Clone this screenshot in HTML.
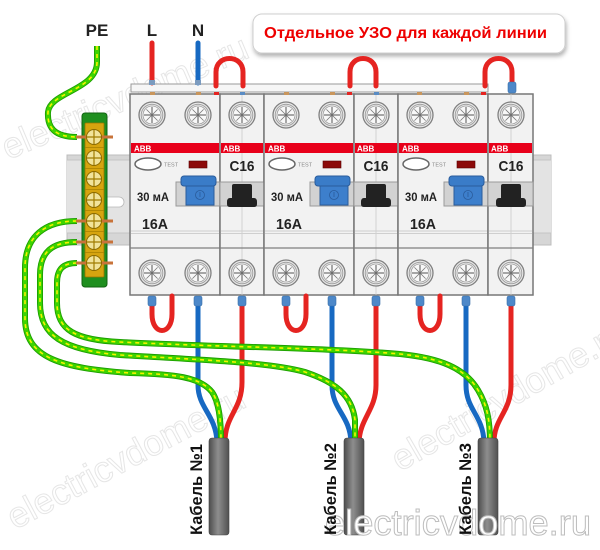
<!DOCTYPE html>
<html><head><meta charset="utf-8">
<style>html,body{margin:0;padding:0;background:#fff}svg{display:block}</style>
</head><body>
<svg width="600" height="550" viewBox="0 0 600 550" xmlns="http://www.w3.org/2000/svg" font-family="'Liberation Sans','DejaVu Sans',sans-serif">
<defs>
<g id="sc">
 <circle r="13" fill="#ececec" stroke="#808080" stroke-width="1.3"/>
 <circle r="10.8" fill="none" stroke="#a0a0a0" stroke-width="1"/>
 <circle r="9" fill="#f8f8f8" stroke="#9a9a9a" stroke-width="0.8"/>
 <path d="M-8,0H8M0,-8V8" stroke="#555" stroke-width="1"/>
 <path d="M-5.6,-5.6L5.6,5.6M-5.6,5.6L5.6,-5.6" stroke="#777" stroke-width="0.8"/>
</g>
<g id="bs">
 <circle r="7.5" fill="#f1e39a" stroke="#8a6a00" stroke-width="1"/>
 <path d="M-7,0H7M0,-7V7" stroke="#a07c00" stroke-width="1.2"/>
</g>
<linearGradient id="cab" x1="0" x2="1" y1="0" y2="0">
 <stop offset="0" stop-color="#4d4d4d"/><stop offset="0.45" stop-color="#8e8e8e"/><stop offset="1" stop-color="#505050"/>
</linearGradient>
<filter id="sh" x="-5%" y="-20%" width="110%" height="160%"><feDropShadow dx="1" dy="3" stdDeviation="2" flood-color="#000" flood-opacity="0.3"/></filter>
</defs>

<!-- faint watermarks -->
<g font-size="36" fill="none" stroke="#e6e6e6" stroke-width="1">
<text transform="translate(8,160) rotate(-23)">electricvdome.ru</text>
<text transform="translate(15,530) rotate(-28)">electricvdome.ru</text>
<text transform="translate(400,472) rotate(-30)">electricvdome.ru</text>
</g>

<!-- title -->
<rect x="253" y="14" width="312" height="39" rx="9" fill="#fff" stroke="#cfcfcf" stroke-width="1" filter="url(#sh)"/>
<text x="264" y="38" font-size="16" font-weight="bold" fill="#ee0000" textLength="283" lengthAdjust="spacingAndGlyphs">Отдельное УЗО для каждой линии</text>

<!-- labels -->
<g font-size="17" font-weight="bold" fill="#222" text-anchor="middle">
<text x="97" y="36">PE</text>
<text x="152" y="36">L</text>
<text x="198" y="36">N</text>
</g>

<!-- DIN rail -->
<rect x="67" y="155" width="484" height="90" fill="#d6d6d6" stroke="#bdbdbd" stroke-width="1"/>
<rect x="67" y="160" width="484" height="73" fill="#e3e3e3"/>
<path d="M67,233H551M67,160H551" stroke="#c4c4c4" stroke-width="1"/>
<rect x="100" y="197" width="24" height="10" rx="5" fill="#fff" stroke="#b8b8b8" stroke-width="0.8"/>

<!-- RCD 1 -->
<g>
<rect x="130" y="94" width="90" height="201" fill="#f2f2f2" stroke="#777" stroke-width="1.5"/>
<rect x="131" y="143" width="88" height="10" fill="#e8001a"/>
<text x="134" y="151.5" font-size="8" font-weight="bold" fill="#fff">ABB</text>
<path d="M131,231H219M131,233.5H219" stroke="#cfcfcf" stroke-width="1"/>
<path d="M130,248H220" stroke="#808080" stroke-width="1.3"/>
<ellipse cx="148" cy="164" rx="13" ry="6" fill="#fff" stroke="#666" stroke-width="1.5"/>
<text x="164" y="166.5" font-size="5.5" fill="#888">TEST</text>
<rect x="189" y="161" width="18" height="7" fill="#8c0a0a" stroke="#5a0000" stroke-width="0.6"/>
<rect x="176" y="182" width="44" height="24" fill="#d2d2d2" stroke="#9a9a9a"/>
<rect x="186" y="183" width="28" height="22" fill="#3d7fcc" stroke="#2a5c9c"/>
<rect x="181" y="176" width="35" height="10" rx="3" fill="#3a7cc8" stroke="#2a5c9c"/>
<circle cx="200" cy="195" r="4.5" fill="none" stroke="#2a5c9c" stroke-width="0.8"/>
<path d="M200,192V197" stroke="#2a5c9c" stroke-width="0.8"/>
<text x="137" y="201" font-size="12" font-weight="bold" fill="#222" textLength="32" lengthAdjust="spacingAndGlyphs">30 мА</text>
<text x="142" y="229" font-size="15" font-weight="bold" fill="#222" textLength="26" lengthAdjust="spacingAndGlyphs">16A</text>
<use href="#sc" x="152" y="115"/><use href="#sc" x="198" y="115"/>
<use href="#sc" x="152" y="273"/><use href="#sc" x="198" y="273"/>
</g>

<!-- MCB 1 -->
<g>
<rect x="220" y="94" width="44" height="201" fill="#f2f2f2" stroke="#777" stroke-width="1.5"/>
<path d="M242,94V295" stroke="#cacaca" stroke-width="0.8"/>
<rect x="221" y="143" width="42" height="10" fill="#e8001a"/>
<text x="223" y="151.5" font-size="8" font-weight="bold" fill="#fff">ABB</text>
<path d="M221,231H263M221,233.5H263" stroke="#cfcfcf" stroke-width="1"/>
<path d="M220,248H264" stroke="#808080" stroke-width="1.3"/>
<text x="242" y="171" font-size="15" font-weight="bold" fill="#222" text-anchor="middle" textLength="25" lengthAdjust="spacingAndGlyphs">C16</text>
<rect x="220" y="182" width="44" height="24" fill="#d2d2d2" stroke="#9a9a9a"/>
<path d="M232,186Q232,184 234,184H250Q252,184 252,186V198H254Q257,198 257,202V204Q257,207 254,207H230Q227,207 227,204V202Q227,198 230,198H232Z" fill="#222"/>
<use href="#sc" x="242" y="115"/><use href="#sc" x="242" y="273"/>
</g>

<!-- RCD 2 -->
<g>
<rect x="264" y="94" width="90" height="201" fill="#f2f2f2" stroke="#777" stroke-width="1.5"/>
<rect x="265" y="143" width="88" height="10" fill="#e8001a"/>
<text x="268" y="151.5" font-size="8" font-weight="bold" fill="#fff">ABB</text>
<path d="M265,231H353M265,233.5H353" stroke="#cfcfcf" stroke-width="1"/>
<path d="M264,248H354" stroke="#808080" stroke-width="1.3"/>
<ellipse cx="282" cy="164" rx="13" ry="6" fill="#fff" stroke="#666" stroke-width="1.5"/>
<text x="298" y="166.5" font-size="5.5" fill="#888">TEST</text>
<rect x="323" y="161" width="18" height="7" fill="#8c0a0a" stroke="#5a0000" stroke-width="0.6"/>
<rect x="310" y="182" width="44" height="24" fill="#d2d2d2" stroke="#9a9a9a"/>
<rect x="320" y="183" width="28" height="22" fill="#3d7fcc" stroke="#2a5c9c"/>
<rect x="315" y="176" width="35" height="10" rx="3" fill="#3a7cc8" stroke="#2a5c9c"/>
<circle cx="334" cy="195" r="4.5" fill="none" stroke="#2a5c9c" stroke-width="0.8"/>
<path d="M334,192V197" stroke="#2a5c9c" stroke-width="0.8"/>
<text x="271" y="201" font-size="12" font-weight="bold" fill="#222" textLength="32" lengthAdjust="spacingAndGlyphs">30 мА</text>
<text x="276" y="229" font-size="15" font-weight="bold" fill="#222" textLength="26" lengthAdjust="spacingAndGlyphs">16A</text>
<use href="#sc" x="286" y="115"/><use href="#sc" x="332" y="115"/>
<use href="#sc" x="286" y="273"/><use href="#sc" x="332" y="273"/>
</g>

<!-- MCB 2 -->
<g>
<rect x="354" y="94" width="44" height="201" fill="#f2f2f2" stroke="#777" stroke-width="1.5"/>
<path d="M376,94V295" stroke="#cacaca" stroke-width="0.8"/>
<rect x="355" y="143" width="42" height="10" fill="#e8001a"/>
<text x="357" y="151.5" font-size="8" font-weight="bold" fill="#fff">ABB</text>
<path d="M355,231H397M355,233.5H397" stroke="#cfcfcf" stroke-width="1"/>
<path d="M354,248H398" stroke="#808080" stroke-width="1.3"/>
<text x="376" y="171" font-size="15" font-weight="bold" fill="#222" text-anchor="middle" textLength="25" lengthAdjust="spacingAndGlyphs">C16</text>
<rect x="354" y="182" width="44" height="24" fill="#d2d2d2" stroke="#9a9a9a"/>
<path d="M366,186Q366,184 368,184H384Q386,184 386,186V198H388Q391,198 391,202V204Q391,207 388,207H364Q361,207 361,204V202Q361,198 364,198H366Z" fill="#222"/>
<use href="#sc" x="376" y="115"/><use href="#sc" x="376" y="273"/>
</g>

<!-- RCD 3 -->
<g>
<rect x="398" y="94" width="90" height="201" fill="#f2f2f2" stroke="#777" stroke-width="1.5"/>
<rect x="399" y="143" width="88" height="10" fill="#e8001a"/>
<text x="402" y="151.5" font-size="8" font-weight="bold" fill="#fff">ABB</text>
<path d="M399,231H487M399,233.5H487" stroke="#cfcfcf" stroke-width="1"/>
<path d="M398,248H488" stroke="#808080" stroke-width="1.3"/>
<ellipse cx="416" cy="164" rx="13" ry="6" fill="#fff" stroke="#666" stroke-width="1.5"/>
<text x="432" y="166.5" font-size="5.5" fill="#888">TEST</text>
<rect x="457" y="161" width="18" height="7" fill="#8c0a0a" stroke="#5a0000" stroke-width="0.6"/>
<rect x="444" y="182" width="44" height="24" fill="#d2d2d2" stroke="#9a9a9a"/>
<rect x="454" y="183" width="28" height="22" fill="#3d7fcc" stroke="#2a5c9c"/>
<rect x="449" y="176" width="35" height="10" rx="3" fill="#3a7cc8" stroke="#2a5c9c"/>
<circle cx="468" cy="195" r="4.5" fill="none" stroke="#2a5c9c" stroke-width="0.8"/>
<path d="M468,192V197" stroke="#2a5c9c" stroke-width="0.8"/>
<text x="405" y="201" font-size="12" font-weight="bold" fill="#222" textLength="32" lengthAdjust="spacingAndGlyphs">30 мА</text>
<text x="410" y="229" font-size="15" font-weight="bold" fill="#222" textLength="26" lengthAdjust="spacingAndGlyphs">16A</text>
<use href="#sc" x="420" y="115"/><use href="#sc" x="466" y="115"/>
<use href="#sc" x="420" y="273"/><use href="#sc" x="466" y="273"/>
</g>

<!-- MCB 3 -->
<g>
<rect x="488" y="94" width="45" height="201" fill="#f2f2f2" stroke="#777" stroke-width="1.5"/>
<path d="M511,94V295" stroke="#cacaca" stroke-width="0.8"/>
<rect x="489" y="143" width="43" height="10" fill="#e8001a"/>
<text x="491" y="151.5" font-size="8" font-weight="bold" fill="#fff">ABB</text>
<path d="M489,231H532M489,233.5H532" stroke="#cfcfcf" stroke-width="1"/>
<path d="M488,248H533" stroke="#808080" stroke-width="1.3"/>
<text x="511" y="171" font-size="15" font-weight="bold" fill="#222" text-anchor="middle" textLength="25" lengthAdjust="spacingAndGlyphs">C16</text>
<rect x="488" y="182" width="45" height="24" fill="#d2d2d2" stroke="#9a9a9a"/>
<path d="M501,186Q501,184 503,184H519Q521,184 521,186V198H523Q526,198 526,202V204Q526,207 523,207H499Q496,207 496,204V202Q496,198 499,198H501Z" fill="#222"/>
<use href="#sc" x="511" y="115"/><use href="#sc" x="511" y="273"/>
</g>

<!-- top busbar strip -->
<rect x="131" y="84" width="357" height="8" fill="#f6f6f6" stroke="#999" stroke-width="1"/>
<g>
<rect x="150" y="92" width="5" height="3" fill="#c9965c"/>
<rect x="196" y="92" width="5" height="3" fill="#c9965c"/>
<rect x="214" y="92" width="5" height="3" fill="#e52421"/>
<rect x="240" y="92" width="5" height="3" fill="#5a8cc4"/>
<rect x="284" y="92" width="5" height="3" fill="#c9965c"/>
<rect x="330" y="92" width="5" height="3" fill="#c9965c"/>
<rect x="347" y="92" width="5" height="3" fill="#e52421"/>
<rect x="374" y="92" width="5" height="3" fill="#5a8cc4"/>
<rect x="417" y="92" width="5" height="3" fill="#c9965c"/>
<rect x="464" y="92" width="5" height="3" fill="#c9965c"/>
<rect x="481" y="92" width="5" height="3" fill="#e52421"/>
</g>

<!-- top wires -->
<g fill="none" stroke-width="5" stroke-linecap="round">
<path d="M152,43V83" stroke="#e52421"/>
<path d="M198,43V83" stroke="#1769c2"/>
<path d="M216,86L216,72C216,54 243,54 243,72L243,86" stroke="#e52421"/>
<path d="M350,86L350,72C350,54 376,54 376,72L376,86" stroke="#e52421"/>
<path d="M485,86L485,72C485,54 512,54 512,72L512,84" stroke="#e52421"/>
</g>
<rect x="149" y="80" width="6" height="5" fill="#7b9bbf"/>
<rect x="195" y="80" width="6" height="5" fill="#7b9bbf"/>
<rect x="508" y="82" width="8" height="11" rx="2" fill="#4d88c9" stroke="#3a6fa8" stroke-width="0.6"/>

<!-- bottom red/blue wires -->
<g fill="none" stroke-width="5" stroke-linecap="round">
<path d="M152,304L152,314C152,336 172,336 172,314L172,296" stroke="#e52421"/>
<path d="M286,304L286,314C286,336 306,336 306,314L306,296" stroke="#e52421"/>
<path d="M420,304L420,314C420,336 440,336 440,314L440,296" stroke="#e52421"/>
<path d="M198,304L198,385C198,408 216,415 217,442" stroke="#1769c2"/>
<path d="M242,304L242,382C242,410 225,415 225,442" stroke="#e52421"/>
<path d="M332,304L332,385C332,410 350,415 351,442" stroke="#1769c2"/>
<path d="M376,304L376,385C376,410 360,418 359,442" stroke="#e52421"/>
<path d="M466,304L466,385C466,410 483,415 484,442" stroke="#1769c2"/>
<path d="M511,304L511,385C511,412 494,418 494,442" stroke="#e52421"/>
</g>
<g fill="#4d88c9" stroke="#3a6fa8" stroke-width="0.6">
<rect x="148" y="296" width="8" height="10" rx="2"/>
<rect x="194" y="296" width="8" height="10" rx="2"/>
<rect x="238" y="296" width="8" height="10" rx="2"/>
<rect x="282" y="296" width="8" height="10" rx="2"/>
<rect x="328" y="296" width="8" height="10" rx="2"/>
<rect x="372" y="296" width="8" height="10" rx="2"/>
<rect x="416" y="296" width="8" height="10" rx="2"/>
<rect x="462" y="296" width="8" height="10" rx="2"/>
<rect x="507" y="296" width="8" height="10" rx="2"/>
</g>

<!-- ground wires -->
<g fill="none" stroke-linecap="butt">
<g stroke="#1c9e00" stroke-width="6">
<path d="M97,46L97,62C97,90 50,92 48,112C47,128 55,137 77,137"/>
<path d="M77,221C45,221 25,236 25,268L25,318C25,358 60,368 130,373C175,374 200,377 212,392C219,402 221,420 221,442"/>
<path d="M77,242C52,242 40,252 40,275L40,303C40,335 62,350 120,355C200,360 270,362 305,372C335,382 352,395 355,420L355,442"/>
<path d="M77,263C63,263 57,269 57,283L57,303C57,330 75,340 120,342C220,347 330,348 400,354C440,358 465,368 478,390C487,405 490,420 490,442"/>
</g>
<g stroke="#3dd400" stroke-width="4.2">
<path d="M97,46L97,62C97,90 50,92 48,112C47,128 55,137 77,137"/>
<path d="M77,221C45,221 25,236 25,268L25,318C25,358 60,368 130,373C175,374 200,377 212,392C219,402 221,420 221,442"/>
<path d="M77,242C52,242 40,252 40,275L40,303C40,335 62,350 120,355C200,360 270,362 305,372C335,382 352,395 355,420L355,442"/>
<path d="M77,263C63,263 57,269 57,283L57,303C57,330 75,340 120,342C220,347 330,348 400,354C440,358 465,368 478,390C487,405 490,420 490,442"/>
</g>
<g stroke="#f6f200" stroke-width="1.6" stroke-dasharray="4 4">
<path d="M97,46L97,62C97,90 50,92 48,112C47,128 55,137 77,137"/>
<path d="M77,221C45,221 25,236 25,268L25,318C25,358 60,368 130,373C175,374 200,377 212,392C219,402 221,420 221,442"/>
<path d="M77,242C52,242 40,252 40,275L40,303C40,335 62,350 120,355C200,360 270,362 305,372C335,382 352,395 355,420L355,442"/>
<path d="M77,263C63,263 57,269 57,283L57,303C57,330 75,340 120,342C220,347 330,348 400,354C440,358 465,368 478,390C487,405 490,420 490,442"/>
</g>
</g>

<!-- ground bus bar -->
<rect x="82" y="113" width="25" height="174" rx="3" fill="#1f8f1f" stroke="#126312" stroke-width="1"/>
<rect x="85" y="123" width="19" height="154" rx="1" fill="#d6a40f" stroke="#9c7400" stroke-width="0.8"/>
<path d="M85,147.5H104M85,168.5H104M85,189.5H104M85,210.5H104M85,231.5H104M85,252.5H104" stroke="#a88000" stroke-width="0.8"/>
<g fill="#c8733a">
<rect x="76" y="135.5" width="37" height="3"/>
<rect x="76" y="219.5" width="37" height="3"/>
<rect x="76" y="240.5" width="37" height="3"/>
<rect x="76" y="261.5" width="37" height="3"/>
</g>
<use href="#bs" x="94" y="137"/><use href="#bs" x="94" y="158"/><use href="#bs" x="94" y="179"/>
<use href="#bs" x="94" y="200"/><use href="#bs" x="94" y="221"/><use href="#bs" x="94" y="242"/>
<use href="#bs" x="94" y="263"/>

<!-- cables -->
<rect x="209" y="438" width="20" height="97" rx="3" fill="url(#cab)" stroke="#444" stroke-width="0.6"/>
<rect x="344" y="438" width="20" height="97" rx="3" fill="url(#cab)" stroke="#444" stroke-width="0.6"/>
<rect x="478" y="438" width="20" height="97" rx="3" fill="url(#cab)" stroke="#444" stroke-width="0.6"/>

<!-- bottom watermark -->
<text x="325" y="535" font-size="36" fill="#fff" stroke="#bdbdbd" stroke-width="1" textLength="266" lengthAdjust="spacingAndGlyphs">electricvdome.ru</text>

<!-- cable labels -->
<g font-size="17" font-weight="bold" fill="#111">
<text transform="translate(202,535) rotate(-90)" textLength="91" lengthAdjust="spacingAndGlyphs">Кабель №1</text>
<text transform="translate(336,535) rotate(-90)" textLength="92" lengthAdjust="spacingAndGlyphs">Кабель №2</text>
<text transform="translate(471,535) rotate(-90)" textLength="92" lengthAdjust="spacingAndGlyphs">Кабель №3</text>
</g>
</svg>
</body></html>
